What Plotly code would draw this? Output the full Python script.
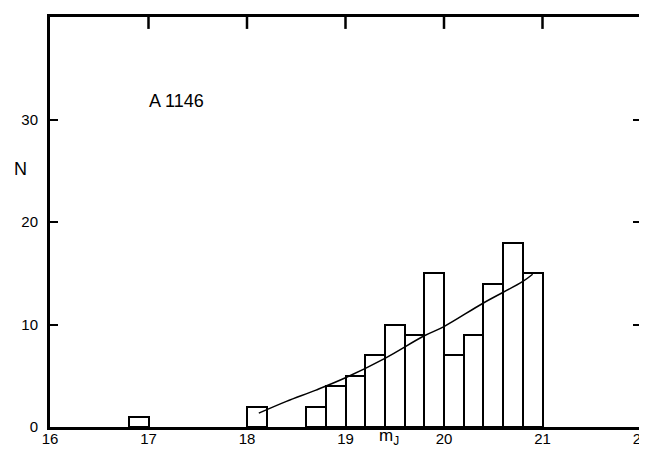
import plotly.graph_objects as go

# Histogram bins (left edges) and counts
bin_left = [16.8, 18.0, 18.6, 18.8, 19.0, 19.2, 19.4, 19.6, 19.8, 20.0, 20.2, 20.4, 20.6, 20.8]
counts = [1, 2, 2, 4, 5, 7, 10, 9, 15, 7, 9, 14, 18, 15]
bin_width = 0.2

# Fitted curve
curve_x = [18.12, 18.4, 18.7, 19.0, 19.4, 19.8, 20.0, 20.4, 20.8, 20.9]
curve_y = [1.35, 2.5, 3.6, 4.8, 6.7, 8.9, 9.8, 12.1, 14.2, 14.9]

x_ticks = [16, 17, 18, 19, 20, 21, 22]
y_ticks = [0, 10, 20, 30]
x_range = [16, 22]
y_range = [0, 40]

FONT = "Liberation Sans"

# page body has an 8px margin; plot area in screen px: x 50..642, y 14..427
L, R, T, B = 42, 13, 6, 41
PW = 647 - L - R
PH = 460 - T - B

fig = go.Figure()
fig.add_trace(go.Bar(
    x=[b + bin_width / 2 for b in bin_left], y=counts, width=bin_width,
    marker=dict(color="white", line=dict(color="black", width=2)),
    showlegend=False, hoverinfo="skip"))
fig.add_trace(go.Scatter(
    x=curve_x, y=curve_y, mode="lines", line=dict(color="black", width=1.5, shape="spline"),
    showlegend=False))

# inward tick marks along the top frame (interior x tick values)
for t in x_ticks[1:-1]:
    fig.add_shape(type="line", xref="x", yref="paper", x0=t, x1=t, y0=1.0, y1=1.0 - 12 / PH,
                  line=dict(color="black", width=2.5), layer="above")

fig.update_layout(
    width=647, height=460,
    margin=dict(l=L, r=R, t=T, b=B),
    paper_bgcolor="white", plot_bgcolor="white",
    font=dict(family=FONT, color="black", size=15),
    xaxis=dict(range=x_range, tickvals=x_ticks, ticktext=[str(t) for t in x_ticks],
               ticks="", showgrid=False, zeroline=False, showline=True,
               linecolor="black", linewidth=3, mirror=True, ticklabelstandoff=-4,
               tickfont=dict(family=FONT, size=15, color="black")),
    yaxis=dict(range=y_range, tickvals=y_ticks, ticks="inside", ticklen=8, tickwidth=2,
               tickcolor="black", showgrid=False, zeroline=False, showline=True,
               linecolor="black", linewidth=3, mirror="ticks", ticklabelstandoff=6,
               tickfont=dict(family=FONT, size=15, color="black")),
    bargap=0,
)


def px_to_paper(sx, sy):
    fx, fy = sx - 8, sy - 8
    return (fx - L) / PW, (460 - B - fy) / PH


nx, ny = px_to_paper(12, 167)
fig.add_annotation(text="N", xref="paper", yref="paper", x=nx, y=ny,
                   showarrow=False, font=dict(family=FONT, size=18, color="black"))
mx, my = px_to_paper(390, 450)
fig.add_annotation(text="m<sub>J</sub>", xref="paper", yref="paper", x=mx, y=my,
                   showarrow=False, font=dict(family=FONT, size=17, color="black"))
fig.add_annotation(text="A 1146", xref="x", yref="y", x=17.28, y=31.8, showarrow=False,
                   font=dict(family=FONT, size=18, color="black"))

fig.write_html("out.html")
